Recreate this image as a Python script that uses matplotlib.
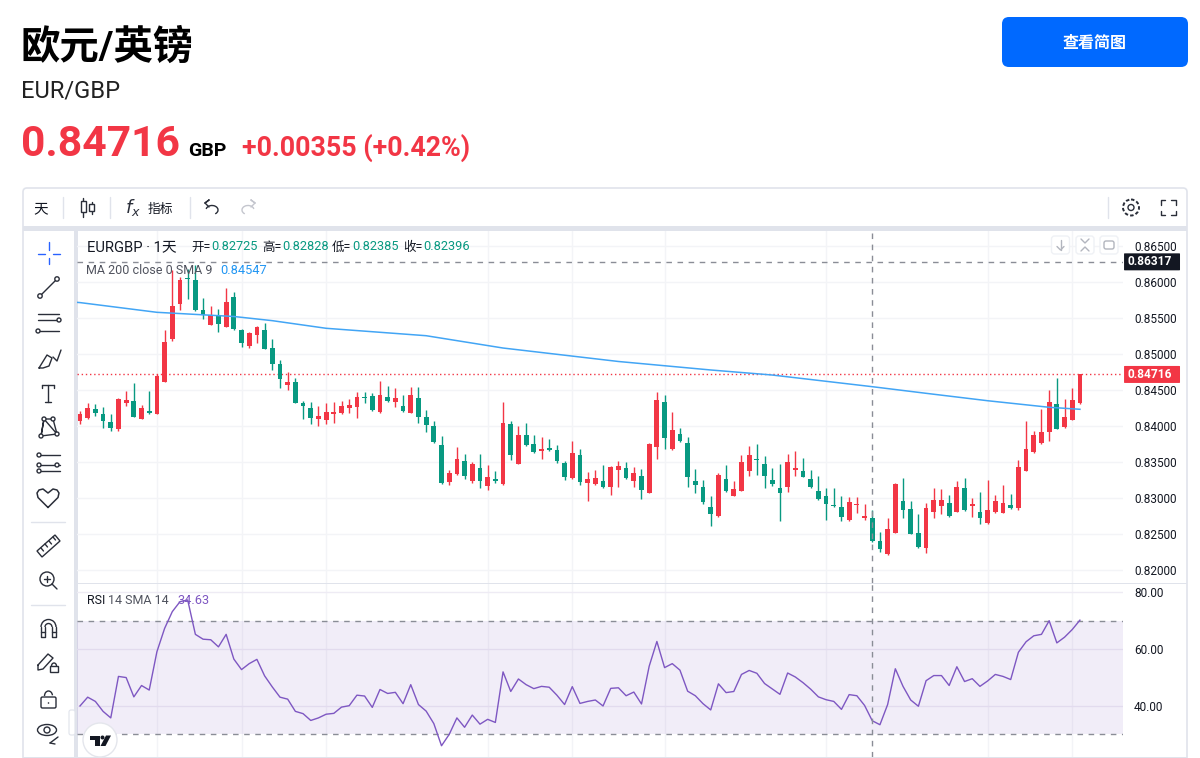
import matplotlib
matplotlib.use("Agg")
import matplotlib.pyplot as plt
from matplotlib.patches import Rectangle, FancyBboxPatch, Circle, Polygon, Arc, Ellipse
from matplotlib.ticker import FormatStrFormatter

plt.rcParams["font.family"] = ["Roboto", "Noto Sans CJK SC", "DejaVu Sans"]

# daily candles (oldest first)
opens = [
    0.84070, 0.84112, 0.84237, 0.84172, 0.84061, 0.83954, 0.84325, 0.84343, 0.84098, 0.84214,
    0.84167, 0.84612, 0.85204, 0.85695, 0.86061, 0.86028, 0.85607, 0.85408, 0.85528, 0.85376,
    0.85792, 0.85339, 0.85112, 0.85269, 0.85329, 0.85079, 0.84857, 0.84570, 0.84616, 0.84320,
    0.84251, 0.84098, 0.84084, 0.84163, 0.84176, 0.84255, 0.84260, 0.84403, 0.84417, 0.84190,
    0.84399, 0.84339, 0.84278, 0.84186, 0.84389, 0.84121, 0.84000, 0.83741, 0.83218, 0.83338,
    0.83509, 0.83232, 0.83417, 0.83167, 0.83264, 0.83190, 0.84023, 0.83477, 0.83875, 0.83750,
    0.83648, 0.83699, 0.83662, 0.83486, 0.83273, 0.83593, 0.83204, 0.83190, 0.83236, 0.83153,
    0.83394, 0.83417, 0.83232, 0.83306, 0.83070, 0.83704, 0.84334, 0.83676, 0.83889, 0.83764,
    0.83236, 0.83157, 0.82875, 0.82745, 0.83264, 0.83028, 0.83097, 0.83380, 0.83542, 0.83472,
    0.83250, 0.83134, 0.83148, 0.83394, 0.83375, 0.83264, 0.83093, 0.83028, 0.82903, 0.82875,
    0.82690, 0.82908, 0.82727, 0.82725, 0.82403, 0.82218, 0.82514, 0.82959, 0.82847, 0.82509,
    0.82310, 0.82810, 0.82894, 0.82926, 0.82810, 0.83134, 0.82894, 0.82806, 0.82648, 0.82801,
    0.82796, 0.82903, 0.82866, 0.83380, 0.83634, 0.83759, 0.83922, 0.84306, 0.83986, 0.84084,
    0.84315,
]
highs = [
    0.84209, 0.84320, 0.84306, 0.84264, 0.84172, 0.84385, 0.84482, 0.84593, 0.84292, 0.84487,
    0.84727, 0.85334, 0.86167, 0.86075, 0.86177, 0.86237, 0.85778, 0.85672, 0.85630, 0.85913,
    0.85862, 0.85343, 0.85311, 0.85385, 0.85427, 0.85214, 0.84917, 0.84755, 0.84667, 0.84343,
    0.84334, 0.84283, 0.84320, 0.84329, 0.84348, 0.84376, 0.84473, 0.84468, 0.84464, 0.84630,
    0.84556, 0.84528, 0.84431, 0.84538, 0.84538, 0.84222, 0.84065, 0.83861, 0.83389, 0.83713,
    0.83607, 0.83500, 0.83607, 0.83458, 0.83375, 0.84334, 0.84065, 0.84000, 0.84042, 0.83875,
    0.83847, 0.83820, 0.83741, 0.83514, 0.83792, 0.83676, 0.83361, 0.83389, 0.83458, 0.83445,
    0.83514, 0.83495, 0.83431, 0.83403, 0.83764, 0.84472, 0.84431, 0.84190, 0.83972, 0.83847,
    0.83403, 0.83255, 0.83023, 0.83347, 0.83458, 0.83241, 0.83597, 0.83727, 0.83755, 0.83579,
    0.83417, 0.83472, 0.83607, 0.83648, 0.83551, 0.83389, 0.83306, 0.83134, 0.83134, 0.83028,
    0.83014, 0.83014, 0.82917, 0.82828, 0.82523, 0.82727, 0.83209, 0.83283, 0.82959, 0.82778,
    0.82926, 0.83134, 0.83121, 0.83037, 0.83241, 0.83283, 0.83000, 0.83079, 0.83255, 0.83042,
    0.83176, 0.83051, 0.83528, 0.84070, 0.83931, 0.84236, 0.84500, 0.84662, 0.84375, 0.84528,
    0.84716,
]
lows = [
    0.84028, 0.84102, 0.84139, 0.83977, 0.83936, 0.83936, 0.84283, 0.84121, 0.84093, 0.84163,
    0.84163, 0.84607, 0.85177, 0.85612, 0.85760, 0.85603, 0.85487, 0.85403, 0.85302, 0.85371,
    0.85334, 0.85093, 0.85079, 0.85149, 0.85070, 0.84778, 0.84533, 0.84501, 0.84315, 0.84098,
    0.84028, 0.84001, 0.84028, 0.84038, 0.84163, 0.84176, 0.84107, 0.84325, 0.84209, 0.84186,
    0.84334, 0.84269, 0.84195, 0.84176, 0.84047, 0.83921, 0.83769, 0.83199, 0.83176, 0.83320,
    0.83269, 0.83213, 0.83134, 0.83111, 0.83213, 0.83185, 0.83528, 0.83472, 0.83722, 0.83630,
    0.83542, 0.83648, 0.83486, 0.83255, 0.83269, 0.83176, 0.82963, 0.83185, 0.83144, 0.83042,
    0.83153, 0.83264, 0.83157, 0.82986, 0.83065, 0.83542, 0.83685, 0.83671, 0.83778, 0.83148,
    0.83065, 0.82917, 0.82607, 0.82741, 0.83079, 0.83023, 0.83093, 0.83306, 0.83324, 0.83134,
    0.83171, 0.82685, 0.83079, 0.83310, 0.83292, 0.83144, 0.82972, 0.82699, 0.82880, 0.82685,
    0.82685, 0.82796, 0.82699, 0.82385, 0.82255, 0.82213, 0.82509, 0.82727, 0.82500, 0.82310,
    0.82232, 0.82718, 0.82783, 0.82741, 0.82806, 0.82824, 0.82732, 0.82634, 0.82644, 0.82796,
    0.82792, 0.82852, 0.82838, 0.83375, 0.83621, 0.83755, 0.83797, 0.83959, 0.83972, 0.84079,
    0.84310,
]
closes = [
    0.84172, 0.84255, 0.84186, 0.84070, 0.83973, 0.84376, 0.84362, 0.84126, 0.84251, 0.84186,
    0.84700, 0.85172, 0.85667, 0.86028, 0.86042, 0.85612, 0.85542, 0.85538, 0.85422, 0.85728,
    0.85343, 0.85149, 0.85292, 0.85376, 0.85075, 0.84866, 0.84653, 0.84616, 0.84325, 0.84274,
    0.84112, 0.84144, 0.84200, 0.84200, 0.84278, 0.84292, 0.84399, 0.84394, 0.84218, 0.84427,
    0.84352, 0.84385, 0.84214, 0.84427, 0.84126, 0.84019, 0.83773, 0.83204, 0.83347, 0.83537,
    0.83301, 0.83472, 0.83232, 0.83292, 0.83232, 0.84037, 0.83597, 0.83875, 0.83732, 0.83639,
    0.83685, 0.83662, 0.83514, 0.83296, 0.83620, 0.83218, 0.83264, 0.83278, 0.83148, 0.83431,
    0.83440, 0.83283, 0.83347, 0.83111, 0.83755, 0.84361, 0.83838, 0.83945, 0.83796, 0.83296,
    0.83176, 0.82945, 0.82782, 0.83320, 0.83097, 0.83120, 0.83500, 0.83593, 0.83528, 0.83310,
    0.83190, 0.83070, 0.83500, 0.83417, 0.83296, 0.83148, 0.82991, 0.82921, 0.82889, 0.82732,
    0.82945, 0.82917, 0.82746, 0.82396, 0.82296, 0.82565, 0.83199, 0.82838, 0.82505, 0.82324,
    0.82861, 0.82968, 0.82968, 0.82746, 0.83158, 0.82829, 0.82917, 0.82718, 0.82833, 0.82959,
    0.82931, 0.82861, 0.83431, 0.83676, 0.83875, 0.83917, 0.84334, 0.83963, 0.84130, 0.84361,
    0.84716,
]

# moving average, read every few candles
ma_index = [-1, 0, 10, 20, 25, 32, 45, 55, 70, 82, 90, 103, 110, 118, 126, 130]
ma_values = [0.85722, 0.85714, 0.85579, 0.85521, 0.85463, 0.85357, 0.85254, 0.85083, 0.84896,
             0.84778, 0.84708, 0.84546, 0.84454, 0.84351, 0.84260, 0.84232]

rsi_values = [
    40.0, 43.1, 41.6, 38.1, 35.8, 50.4, 50.0, 43.2, 47.2, 45.6,
    59.1, 67.3, 73.2, 76.7, 77.3, 65.2, 63.5, 63.3, 60.8, 65.2,
    56.5, 52.8, 54.9, 56.4, 50.6, 46.7, 43.1, 42.4, 38.1, 37.3,
    34.9, 35.8, 37.1, 37.4, 39.6, 40.1, 43.8, 43.5, 39.5, 45.8,
    44.4, 44.8, 40.8, 47.5, 40.5, 38.2, 33.8, 26.0, 30.0, 35.8,
    32.5, 36.8, 33.6, 35.3, 34.2, 52.0, 45.1, 49.5, 47.5, 46.1,
    46.9, 46.6, 43.8, 40.5, 46.8, 40.9, 41.6, 42.1, 40.0, 46.2,
    46.4, 43.6, 44.9, 40.7, 54.0, 62.7, 53.5, 54.9, 52.6, 45.2,
    43.6, 40.8, 38.6, 47.8, 44.7, 45.1, 51.1, 52.5, 51.5, 47.9,
    46.0, 44.1, 51.6, 50.2, 48.2, 45.9, 43.2, 42.2, 41.6, 38.8,
    44.0, 43.6, 40.2, 34.8, 33.4, 40.5, 53.1, 46.9, 42.1, 39.9,
    48.9, 50.7, 50.7, 47.2, 53.8, 48.6, 49.6, 46.9, 48.8, 51.1,
    50.4, 49.3, 58.9, 62.6, 64.7, 65.2, 70.0, 62.2, 64.2, 66.9,
    70.2,
]

price_ticks = [0.865, 0.86, 0.855, 0.85, 0.845, 0.84, 0.835, 0.83, 0.825, 0.82]
rsi_ticks = [80, 60, 40]
time_grid = [10, 21, 32, 53, 64, 76, 97, 118, 129]
crosshair_i = 103
last_price = 0.84716
high_level = 0.8628

UP = "#F23645"
DOWN = "#089981"
GRID = "#F3F4F7"
BORDER = "#E0E3EB"
DASH = "#8A8D96"
TEXT = "#131722"
ICON = "#2A2E39"


def pane(rect):
    x0, y0, x1, y1 = rect
    ax = fig.add_axes([x0 / 1200, 1 - y1 / 758, (x1 - x0) / 1200, (y1 - y0) / 758], facecolor="none")
    ax.set_xlim(-0.39, 135.6)
    ax.set_xticks([])
    for s in ax.spines.values():
        s.set_visible(False)
    ax.yaxis.tick_right()
    ax.tick_params(axis="y", length=0, pad=8, labelsize=8.5, labelcolor=TEXT)
    ax.set_axisbelow(True)
    for t in time_grid:
        ax.axvline(t, color=GRID, lw=1, zorder=0)
    ax.axvline(crosshair_i, color=DASH, lw=1, ls=(0, (4, 4)), zorder=4)
    return ax


def price_tag(ax, value, shown, color):
    tr = ax.get_yaxis_transform()
    ax.add_patch(FancyBboxPatch((1.001, value - 0.00118), 0.0535, 0.00236, transform=tr,
                                boxstyle="round,pad=0,rounding_size=0.001", mutation_aspect=0.05,
                                fc=color, ec="none", clip_on=False, zorder=6))
    ax.text(1.0255, value, shown, transform=tr, color="white", fontsize=8.6, fontweight="bold",
            ha="center", va="center", zorder=7, clip_on=False)


fig = plt.figure(figsize=(12, 7.58), dpi=100, facecolor="white")

# chrome behind the chart
bg = fig.add_axes([0, 0, 1, 1])
bg.set_xlim(0, 1200)
bg.set_ylim(758, 0)
bg.axis("off")
bg.add_patch(FancyBboxPatch((23, 188), 1164, 575, boxstyle="round,pad=0,rounding_size=4",
                            fc="white", ec=BORDER, lw=1.2))
bg.add_patch(Rectangle((23, 226), 1164, 4.5, fc=BORDER, ec="none"))
bg.add_patch(Rectangle((73.5, 230), 4, 528, fc=BORDER, ec="none"))
bg.add_patch(Rectangle((77, 583), 1110, 1.2, fc=BORDER, ec="none"))
bg.add_patch(Rectangle((23, 756.6), 1164, 1.4, fc=BORDER, ec="none"))

# main price pane
ax = pane((77, 231, 1123, 583))
ax.set_ylim(0.82 - 13 / 7200, 0.82 + 339 / 7200)
ax.set_yticks(price_ticks)
ax.yaxis.set_major_formatter(FormatStrFormatter("%.5f"))
ax.grid(axis="y", color=GRID, lw=1)
ax.axhline(high_level, color=DASH, lw=1, ls=(0, (4, 4)), zorder=1)
ax.axhline(last_price, color=UP, lw=1, ls=(0, (1, 2)), zorder=1)
ax.plot(ma_index, ma_values, color="#42A5F5", lw=1.1, zorder=3)

idx = list(range(len(opens)))
colors = [UP if c >= o else DOWN for o, c in zip(opens, closes)]
ax.vlines(idx, lows, highs, colors=colors, lw=1, zorder=2)
ax.bar(idx, [abs(c - o) for o, c in zip(opens, closes)], bottom=[min(o, c) for o, c in zip(opens, closes)],
       width=0.62, color=colors, linewidth=0, zorder=2.5)

price_tag(ax, high_level, "0.86317", TEXT)
price_tag(ax, last_price, "0.84716", UP)

# RSI pane
rsi_ax = pane((77, 584, 1123, 757))
rsi_ax.set_ylim(40 - 51 / 2.84, 80 + 8.3 / 2.84)
rsi_ax.set_yticks(rsi_ticks)
rsi_ax.yaxis.set_major_formatter(FormatStrFormatter("%.2f"))
rsi_ax.grid(axis="y", color="#EEEBF4", lw=1)
rsi_ax.axhspan(30, 70, color="#7E57C2", alpha=0.1, lw=0, zorder=1)
rsi_ax.axhline(70, color=DASH, lw=1, ls=(0, (4, 4)), zorder=2)
rsi_ax.axhline(30, color=DASH, lw=1, ls=(0, (4, 4)), zorder=2)
rsi_ax.plot(range(len(rsi_values)), rsi_values, color="#7E57C2", lw=1, zorder=3)

# overlay: page header, legends and toolbars
ov = fig.add_axes([0, 0, 1, 1], facecolor="none")
ov.set_xlim(0, 1200)
ov.set_ylim(758, 0)
ov.axis("off")


def label(x, y, s, size, color=TEXT, weight="normal", ha="left"):
    return ov.text(x, y, s, fontsize=size, color=color, fontweight=weight, ha=ha, va="center")


def stroke(xs, ys, color=ICON, lw=1):
    ov.plot(xs, ys, color=color, lw=lw, solid_capstyle="round")


def knob(x, y, r=2.6):
    ov.add_patch(Circle((x, y), r, fc="white", ec=ICON, lw=1, zorder=5))


label(20, 48, "欧元/英镑", 28.4, "black", "bold")
label(21, 91, "EUR/GBP", 17, "#222222")
label(21, 145, "0.84716", 30.7, UP, "bold")
label(188, 151, "GBP", 14, "black", "bold")
label(242, 148, "+0.00355 (+0.42%)", 19.3, UP, "bold")
ov.add_patch(FancyBboxPatch((1002, 17), 186, 50, boxstyle="round,pad=0,rounding_size=7", fc="#0069FF", ec="none"))
label(1095, 43, "查看简图", 11.5, "white", "bold", "center")

# series legend
label(87, 247, "EURGBP · 1天", 10.6)
for lx, name, val in [(191, "开", "0.82725"), (262, "高", "0.82828"), (332, "低", "0.82385"), (403, "收", "0.82396")]:
    label(lx, 247, name + "=", 9, TEXT)
    label(lx + 20, 247, val, 9.2, DOWN)
label(86, 270, "MA 200 close 0 SMA 9", 9, "#50535E")
label(220, 270, "0.84547", 9.2, "#2196F3")
label(87, 601, "RSI", 9, TEXT)
label(108, 601, "14 SMA 14", 9, "#50535E")
label(177, 601, "34.63", 9.2, "#7E57C2")

# top toolbar
label(41, 209, "天", 10.5, TEXT, "normal", "center")
for sx in [63, 110, 190, 1108]:
    stroke([sx, sx], [197, 218], BORDER, 1)
for cx, top, bot, h0, h1 in [(83, 198, 217, 201, 212), (91.5, 202, 214, 204, 211)]:
    stroke([cx, cx], [top, bot])
    ov.add_patch(Rectangle((cx - 2.5, h0), 5, h1 - h0, fc="white", ec=ICON, lw=1, zorder=4))
ov.text(125, 207, "$f_x$", fontsize=13, color=ICON, ha="left", va="center")
label(148, 209, "指标", 9.2)
ov.add_patch(Arc((212, 210), 12, 9, theta1=190, theta2=50, color=ICON, lw=1))
stroke([205, 209, 205, 209], [203, 200, 203, 207], ICON, 1)
ov.add_patch(Arc((248, 210), 12, 9, theta1=130, theta2=350, color="#C4C6CE", lw=1))
stroke([255, 251, 255, 251], [203, 200, 203, 207], "#C4C6CE", 1)
# gear
ov.add_patch(Circle((1131, 207.5), 3, fc="none", ec=ICON, lw=1))
ov.add_patch(Circle((1131, 207.5), 8, fc="none", ec=ICON, lw=1.4, ls=(0, (1.8, 1.1))))
# fullscreen corners
for dx, dy in [(-1, -1), (1, -1), (-1, 1), (1, 1)]:
    stroke([1168 + dx * 7.5, 1168 + dx * 7.5, 1168 + dx * 3], [207.5 + dy * 3, 207.5 + dy * 7.5, 207.5 + dy * 7.5])

# pane buttons
for bx in [1060.5, 1085, 1109]:
    ov.add_patch(FancyBboxPatch((bx - 9, 236), 18, 18, boxstyle="round,pad=0,rounding_size=3",
                                fc="white", ec="#EFF1F5", lw=1, zorder=1))
stroke([1060.5, 1060.5], [240, 250], "#B2B5BE")
stroke([1057, 1060.5, 1064], [246.5, 250, 246.5], "#B2B5BE")
stroke([1081, 1085, 1089], [239, 243, 239], "#B2B5BE")
stroke([1081, 1085, 1089], [251, 247, 251], "#B2B5BE")
ov.add_patch(FancyBboxPatch((1104, 241), 10, 8, boxstyle="round,pad=0,rounding_size=2", fc="white", ec="#B2B5BE", lw=1, zorder=4))

# left toolbar
stroke([49, 49], [242, 250], "#2962FF")
stroke([49, 49], [258, 264], "#2962FF")
stroke([38, 45], [253.5, 253.5], "#2962FF")
stroke([53, 60], [253.5, 253.5], "#2962FF")
stroke([41, 56], [295, 280])
knob(40, 296, 2.2)
knob(57, 279, 2.2)
for ly, x0 in [(314, 38), (320, 38), (331, 38)]:
    stroke([x0, 59], [ly, ly])
stroke([38, 59], [325.5, 325.5], "white", 0.1)
knob(59, 320, 2)
knob(38, 331, 2)
stroke([39, 47, 52, 49, 43, 39], [368, 355, 358, 366, 368, 368])
stroke([53, 57, 61], [357, 361, 350])
stroke([42, 54], [385, 385])
stroke([48, 48], [385, 402])
stroke([42, 42], [385, 388])
stroke([54, 54], [385, 388])
stroke([45, 51], [402, 402])
stroke([41, 44, 57, 53, 44, 41, 57], [436, 419, 434, 419, 419, 436, 434])
for kx, ky in [(41, 436), (44, 419), (53, 419), (57, 434)]:
    knob(kx, ky, 2)
for ly, x0, x1 in [(455, 40, 60), (465, 40, 60), (471, 40, 60)]:
    stroke([x0, x1], [ly, ly])
for kx, ky in [(39, 455), (39, 465), (39, 471), (57, 465)]:
    knob(kx, ky, 2)
# heart
stroke([48, 38, 37, 39, 43, 48, 53, 57, 59, 58, 48],
       [507.5, 497.5, 493, 490, 489, 493, 489, 490, 493, 497.5, 507.5], ICON, 1.1)
stroke([31, 65], [522, 522], BORDER, 1)
# ruler
ov.add_patch(Polygon([[37, 551], [55, 535], [60, 541], [42, 557]], closed=True, fc="white", ec=ICON, lw=1))
for tx, ty in [(41, 548), (45, 544), (49, 541), (53, 537)]:
    stroke([tx, tx + 2.5], [ty, ty + 3])
# zoom
ov.add_patch(Circle((47, 579), 7, fc="white", ec=ICON, lw=1))
stroke([47, 47], [576, 582])
stroke([44, 50], [579, 579])
stroke([52, 57], [584, 589])
stroke([31, 65], [605, 605], BORDER, 1)
# magnet
ov.add_patch(Arc((48.5, 627), 15, 15, theta1=180, theta2=360, color=ICON, lw=1))
ov.add_patch(Arc((48.5, 627), 7, 7, theta1=180, theta2=360, color=ICON, lw=1))
stroke([41, 41, 45, 45], [627, 637, 637, 627])
stroke([56, 56, 52, 52], [627, 637, 637, 627])
stroke([41, 45], [632, 632])
stroke([52, 56], [632, 632])
# pencil and lock
stroke([38, 48, 53, 43, 38, 38], [665, 654, 658, 669, 670, 665])
ov.add_patch(Rectangle((50, 666), 8, 6, fc="white", ec=ICON, lw=1, zorder=4))
ov.add_patch(Arc((54, 666), 5, 6, theta1=180, theta2=360, color=ICON, lw=1))
# lock
ov.add_patch(FancyBboxPatch((41, 697), 15, 11, boxstyle="round,pad=0,rounding_size=1.5", fc="white", ec=ICON, lw=1))
ov.add_patch(Arc((48.5, 696), 8, 10, theta1=180, theta2=350, color=ICON, lw=1))
ov.add_patch(Circle((48.5, 703), 0.8, fc=ICON, ec="none"))
# eye
ov.add_patch(Ellipse((47, 730), 19, 11, fc="white", ec=ICON, lw=1))
ov.add_patch(Circle((47, 730), 3, fc="white", ec=ICON, lw=1))
stroke([50, 58], [743, 737])
stroke([50, 55], [743, 744])
# collapse handle
ov.add_patch(FancyBboxPatch((69, 710), 6, 25, boxstyle="round,pad=0,rounding_size=2", fc="white", ec=BORDER, lw=0.8))

# TradingView badge
ov.add_patch(Circle((100, 740), 17, fc="white", ec="#E4E6EC", lw=1, zorder=5))
ov.add_patch(Polygon([[90, 735.5], [99.5, 735.5], [99.5, 746], [95, 746], [95, 739.5], [90, 739.5]],
                     closed=True, fc=TEXT, ec="none", zorder=6))
ov.add_patch(Circle((102.5, 737.5), 2, fc=TEXT, ec="none", zorder=6))
ov.add_patch(Polygon([[106, 735.5], [111, 735.5], [105.5, 746], [100.5, 746]], closed=True, fc=TEXT, ec="none", zorder=6))

fig.savefig("out.png", dpi=100, facecolor="white")
